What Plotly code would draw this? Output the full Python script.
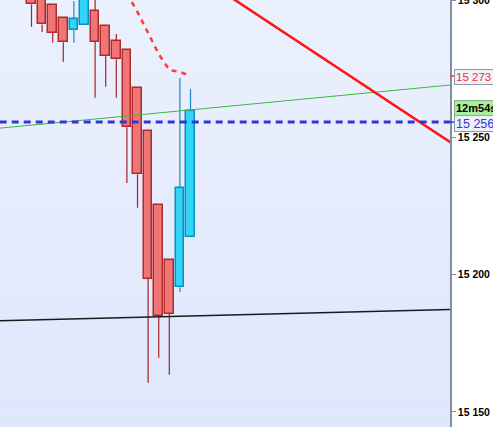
import plotly.graph_objects as go

# ---------------- data ----------------
candle_idx = list(range(16))
opens  = [15303.7, 15301.9, 15298.2, 15293.4, 15289.1, 15290.9, 15296.0, 15290.5,
          15285.0, 15281.8, 15267.9, 15252.3, 15225.3, 15205.2, 15195.4, 15213.6]
highs  = [15305.6, 15303.0, 15298.2, 15293.4, 15299.7, 15305.0, 15302.0, 15290.5,
          15287.7, 15281.8, 15267.9, 15252.3, 15225.3, 15205.2, 15271.7, 15267.7]
lows   = [15290.3, 15288.4, 15284.5, 15277.6, 15284.5, 15290.9, 15264.5, 15268.5,
          15264.5, 15233.4, 15224.4, 15160.6, 15169.7, 15163.5, 15193.7, 15213.6]
closes = [15298.5, 15291.2, 15288.2, 15284.7, 15293.1, 15303.0, 15284.9, 15279.6,
          15278.5, 15253.7, 15236.6, 15198.5, 15185.0, 15185.8, 15231.5, 15259.6]

stop_idx = [9, 10, 11, 12, 13, 14, 15]
stop_vals = [15302.5, 15295.7, 15288.1, 15280.4, 15274.6, 15273.9, 15272.4]

red_line_idx = [15, 40]
red_line_vals = [15310.8, 15247.0]
green_line_idx = [-3, 40]
green_line_vals = [15253.4, 15269.3]
black_line_idx = [-3, 40]
black_line_vals = [15183.2, 15187.35]

current_price = 15255.6
current_label = "15 256"
stop_label = "15 273"
timer_label = "12m54s"

tick_vals = [15150, 15200, 15250, 15300]
tick_text = ["15 150", "15 200", "15 250", "15 300"]

# ---------------- styling ----------------
BEAR_FILL, BEAR_LINE = "#ee7676", "#b02a2a"
BULL_FILL, BULL_LINE = "#33d5f6", "#0b8ec6"
AXIS_COL = "#7f8fa0"
FONT = "Liberation Sans"

fig = go.Figure()

# background gradient bands
n_bands = 30
top = (0xeb, 0xf0, 0xfd)
bot = (0xdf, 0xe7, 0xfc)
for k in range(n_bands):
    t = k / (n_bands - 1)
    col = tuple(round(top[j] + (bot[j] - top[j]) * t) for j in range(3))
    fig.add_shape(type="rect", xref="paper", yref="paper",
                  x0=0, x1=1, y0=1 - (k + 1) / n_bands, y1=1 - k / n_bands,
                  fillcolor="rgb(%d,%d,%d)" % col, line_width=0, layer="below")

# candle bodies
bull = [c >= o for o, c in zip(opens, closes)]
fig.add_trace(go.Bar(
    x=candle_idx,
    y=[abs(c - o) for o, c in zip(opens, closes)],
    base=[min(o, c) for o, c in zip(opens, closes)],
    width=0.82,
    marker=dict(color=[BULL_FILL if b else BEAR_FILL for b in bull],
                line=dict(color=[BULL_LINE if b else BEAR_LINE for b in bull], width=1.5)),
    hoverinfo="skip", showlegend=False))

# wicks (outside bodies)
for is_bull, col in [(False, "#a82222"), (True, "#1a88bf")]:
    wx, wy = [], []
    for i, o, h, l, c, b in zip(candle_idx, opens, highs, lows, closes, bull):
        if b != is_bull:
            continue
        hi_b, lo_b = max(o, c), min(o, c)
        if h > hi_b:
            wx += [i, i, None]; wy += [hi_b, h, None]
        if l < lo_b:
            wx += [i, i, None]; wy += [lo_b, l, None]
    fig.add_trace(go.Scatter(x=wx, y=wy, mode="lines", line=dict(color=col, width=1.2),
                             hoverinfo="skip", showlegend=False))

# trend lines
fig.add_trace(go.Scatter(x=black_line_idx, y=black_line_vals, mode="lines",
                         line=dict(color="#1a1a1a", width=1.5), showlegend=False))
fig.add_trace(go.Scatter(x=green_line_idx, y=green_line_vals, mode="lines",
                         line=dict(color="#3cb83c", width=1), showlegend=False))
fig.add_trace(go.Scatter(x=red_line_idx, y=red_line_vals, mode="lines",
                         line=dict(color="#ff1414", width=2.5), showlegend=False))
fig.add_trace(go.Scatter(x=stop_idx, y=stop_vals, mode="lines",
                         line=dict(color="#ff3c3c", width=2.5, dash="5px,5px"),
                         showlegend=False))
fig.add_trace(go.Scatter(x=[-3, 40], y=[current_price, current_price], mode="lines",
                         line=dict(color="#3535d5", width=3, dash="7px,5px"),
                         showlegend=False))

# right-side small tick marks for labels
for val, col in [(stop_vals[-1], "#ff3030"), (current_price, "#3535d5")]:
    fig.add_shape(type="line", xref="paper", yref="y", x0=1, x1=1.011, y0=val, y1=val,
                  line=dict(color=col, width=1.5))

# labels
fig.add_annotation(xref="paper", yref="y", x=1, y=stop_vals[-1], xshift=4, yshift=-1,
                   xanchor="left", yanchor="middle", text=stop_label, showarrow=False,
                   align="left", width=44, height=12,
                   font=dict(family=FONT, size=11.5, color="#ff2a2a"),
                   bgcolor="#eef2fa", bordercolor="#8a9aaa", borderwidth=1, borderpad=1)
fig.add_annotation(xref="paper", yref="y", x=1, y=current_price, xshift=4, yshift=-1.5,
                   xanchor="left", yanchor="middle", text=current_label, showarrow=False,
                   align="left", width=44, height=13,
                   font=dict(family=FONT, size=12.5, color="#3333dd"),
                   bgcolor="#eef0fa", bordercolor="#8a9aaa", borderwidth=1, borderpad=1)
fig.add_annotation(xref="paper", yref="y", x=1, y=current_price, xshift=4, yshift=14.5,
                   xanchor="left", yanchor="middle", text=timer_label, showarrow=False,
                   align="left", width=44, height=12,
                   font=dict(family=FONT, size=11, color="#000000", weight="bold"),
                   bgcolor="#a8ef9c", bordercolor="#8ab08a", borderwidth=1, borderpad=1)

fig.update_layout(
    width=493, height=427,
    margin=dict(l=0, r=43, t=0, b=0),
    paper_bgcolor="white", plot_bgcolor="#e5ecfd",
    bargap=0, showlegend=False,
    xaxis=dict(range=[-2.972, 39.48], visible=False, showgrid=False, zeroline=False,
               automargin=False),
    yaxis=dict(range=[15144.5, 15300.1], side="right", tickvals=tick_vals, ticktext=tick_text,
               ticks="outside", ticklen=4, tickcolor=AXIS_COL, showline=True,
               linecolor=AXIS_COL, linewidth=1.5, showgrid=False, zeroline=False,
               ticklabeloverflow="allow", automargin=False,
               tickfont=dict(family=FONT, size=10.5, color="#000000", weight="bold")),
)

fig.write_html("out.html", config={"displayModeBar": False},
               post_script="document.body.style.margin='0px';document.body.style.overflow='hidden';")
